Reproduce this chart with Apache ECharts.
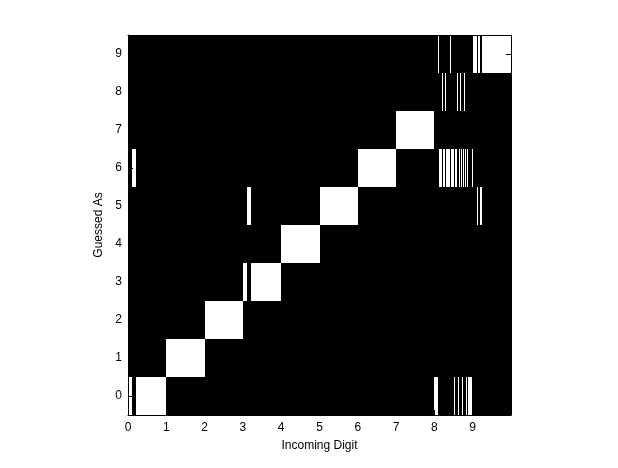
<!DOCTYPE html>
<html>
<head>
<meta charset="utf-8">
<script src="https://cdn.jsdelivr.net/npm/echarts@6/dist/echarts.min.js"></script>
<style>
html,body{margin:0;padding:0;background:#fff;}
#chart{width:618px;height:468px;}
</style>
</head>
<body>
<div id="chart"></div>
<script>
// Tick labels
var xTickLabels = ['0','1','2','3','4','5','6','7','8','9'];
var yCategories = ['0','1','2','3','4','5','6','7','8','9'];

// Guessed digit for each of the 40 samples of each incoming digit (left to right)
var guesses0 = [0,0,0,0,6,6,6,6,0,0,0,0,0,0,0,0,0,0,0,0,0,0,0,0,0,0,0,0,0,0,0,0,0,0,0,0,0,0,0,0];
var guesses1 = [1,1,1,1,1,1,1,1,1,1,1,1,1,1,1,1,1,1,1,1,1,1,1,1,1,1,1,1,1,1,1,1,1,1,1,1,1,1,1,1];
var guesses2 = [2,2,2,2,2,2,2,2,2,2,2,2,2,2,2,2,2,2,2,2,2,2,2,2,2,2,2,2,2,2,2,2,2,2,2,2,2,2,2,2];
var guesses3 = [3,3,3,3,5,5,5,5,3,3,3,3,3,3,3,3,3,3,3,3,3,3,3,3,3,3,3,3,3,3,3,3,3,3,3,3,3,3,3,3];
var guesses4 = [4,4,4,4,4,4,4,4,4,4,4,4,4,4,4,4,4,4,4,4,4,4,4,4,4,4,4,4,4,4,4,4,4,4,4,4,4,4,4,4];
var guesses5 = [5,5,5,5,5,5,5,5,5,5,5,5,5,5,5,5,5,5,5,5,5,5,5,5,5,5,5,5,5,5,5,5,5,5,5,5,5,5,5,5];
var guesses6 = [6,6,6,6,6,6,6,6,6,6,6,6,6,6,6,6,6,6,6,6,6,6,6,6,6,6,6,6,6,6,6,6,6,6,6,6,6,6,6,6];
var guesses7 = [7,7,7,7,7,7,7,7,7,7,7,7,7,7,7,7,7,7,7,7,7,7,7,7,7,7,7,7,7,7,7,7,7,7,7,7,7,7,7,7];
var guesses8 = [0,0,0,0,9,6,6,6,8,6,6,8,6,6,6,6,9,6,6,6,0,8,6,6,8,0,6,8,6,0,6,8,6,0,6,0,0,0,0,6];
var guesses9 = [9,9,9,9,5,5,9,9,5,5,9,9,9,9,9,9,9,9,9,9,9,9,9,9,9,9,9,9,9,9,9,9,9,9,9,9,9,9,9,9];

var allGuesses = [guesses0,guesses1,guesses2,guesses3,guesses4,guesses5,guesses6,guesses7,guesses8,guesses9];

// Build run segments [xStart, xEnd, guess]
var segments = [];
(function(){
  var flat = [];
  allGuesses.forEach(function(arr, d){
    var n = arr.length;
    arr.forEach(function(g, i){ flat.push([d + i / n, d + (i + 1) / n, g]); });
  });
  var cur = null;
  flat.forEach(function(s){
    if (cur && cur[2] === s[2] && Math.abs(cur[1] - s[0]) < 1e-9) { cur[1] = s[1]; }
    else { if (cur) segments.push(cur); cur = s.slice(); }
  });
  if (cur) segments.push(cur);
})();

var font = "'Liberation Sans', Arial, Helvetica, sans-serif";
var chart = echarts.init(document.getElementById('chart'));
var tickStyle = {show:true, inside:true, length:5, lineStyle:{color:'#000', width:1}};
var catTickStyle = {show:true, inside:true, length:5, alignWithLabel:true, lineStyle:{color:'#000', width:1}};
chart.setOption({
  animation:false,
  backgroundColor:'#fff',
  grid:{left:128, top:35, width:383, height:380, show:true, backgroundColor:'#000', borderWidth:0, containLabel:false},
  xAxis:[{
    type:'value', min:0, max:10, interval:1, position:'bottom', z:10,
    axisLine:{show:true, onZero:false, lineStyle:{color:'#000', width:1}},
    axisTick:tickStyle,
    splitLine:{show:false},
    axisLabel:{color:'#000', fontFamily:font, fontSize:12, margin:7,
      formatter:function(v){ return v < xTickLabels.length ? xTickLabels[v] : ''; }},
    name:'Incoming Digit', nameLocation:'middle', nameGap:25,
    nameTextStyle:{color:'#000', fontFamily:font, fontSize:12}
  },{
    type:'value', min:0, max:10, interval:1, position:'top', z:10,
    axisLine:{show:true, onZero:false, lineStyle:{color:'#000', width:1}},
    axisTick:tickStyle, splitLine:{show:false}, axisLabel:{show:false}
  }],
  yAxis:[{
    type:'category', data:yCategories, position:'left', z:10,
    axisLine:{show:true, onZero:false, lineStyle:{color:'#000', width:1}},
    axisTick:catTickStyle,
    splitLine:{show:false},
    axisLabel:{color:'#000', fontFamily:font, fontSize:12, margin:6},
    name:'Guessed As', nameLocation:'middle', nameGap:20, nameRotate:90,
    nameTextStyle:{color:'#000', fontFamily:font, fontSize:12}
  },{
    type:'category', data:yCategories, position:'right', z:10,
    axisLine:{show:true, onZero:false, lineStyle:{color:'#000', width:1}},
    axisTick:catTickStyle,
    splitLine:{show:false}, axisLabel:{show:false}
  }],
  series:[{
    type:'custom', xAxisIndex:0, yAxisIndex:0, z:2,
    encode:{x:[0,1], y:2},
    data:segments,
    renderItem:function(params, api){
      var s = api.coord([api.value(0), api.value(2)]);
      var e = api.coord([api.value(1), api.value(2)]);
      var h = api.size([0, 1])[1];
      var x0 = Math.round(s[0]), x1 = Math.round(e[0]);
      var y0 = Math.round(s[1] - h / 2), y1 = Math.round(s[1] + h / 2);
      return {type:'rect', shape:{x:x0, y:y0, width:x1 - x0, height:y1 - y0}, style:{fill:'#fff'}};
    }
  }]
});
</script>
</body>
</html>
